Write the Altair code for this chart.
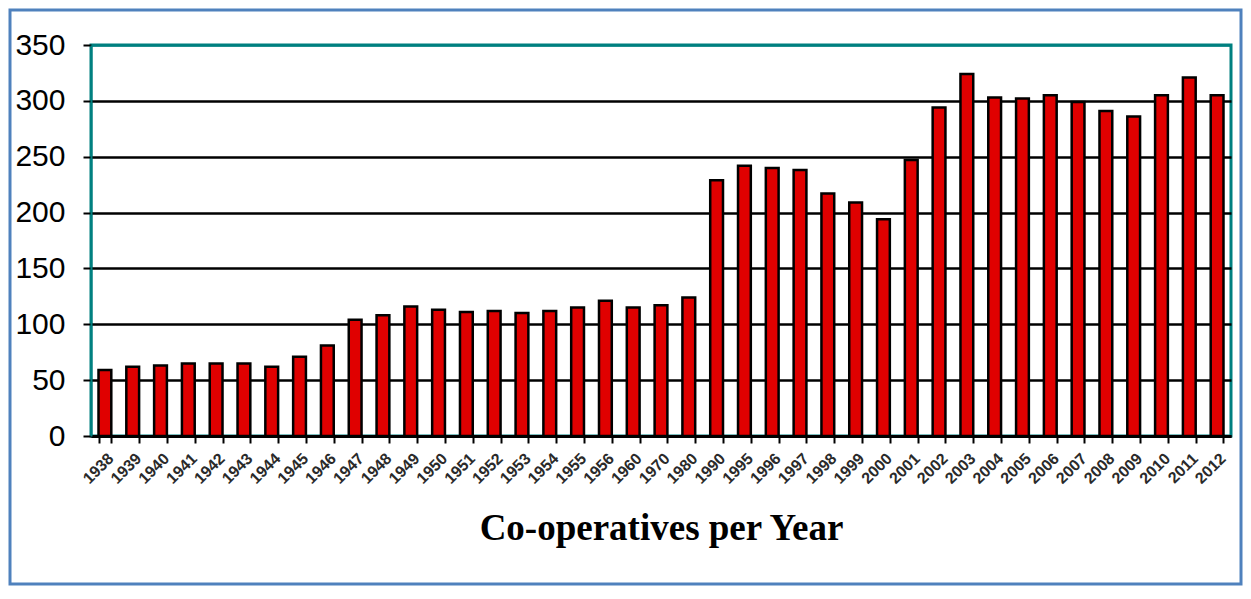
import altair as alt
import pandas as pd

years = ["1938", "1939", "1940", "1941", "1942", "1943", "1944", "1945", "1946", "1947",
         "1948", "1949", "1950", "1951", "1952", "1953", "1954", "1955", "1956", "1960",
         "1970", "1980", "1990", "1995", "1996", "1997", "1998", "1999", "2000", "2001",
         "2002", "2003", "2004", "2005", "2006", "2007", "2008", "2009", "2010", "2011", "2012"]
counts = [59, 62, 63, 65, 65, 65, 62, 71, 81, 104,
          108, 116, 113, 111, 112, 110, 112, 115, 121, 115,
          117, 124, 229, 242, 240, 238, 217, 209, 194, 247,
          294, 324, 303, 302, 305, 299, 291, 286, 305, 321, 305]
y_ticks = [0, 50, 100, 150, 200, 250, 300, 350]

df = pd.DataFrame({"year": years, "count": counts})

W, H = 1140, 391
PL, PT, PR, PB = 83, 37, 12, 150

bars = alt.Chart(df).mark_bar(
    color="#E00000", stroke="black", strokeWidth=2.5
).encode(
    x=alt.X("year:N", sort=None,
            scale=alt.Scale(paddingInner=0.54, paddingOuter=0.27),
            axis=alt.Axis(
                title="Co-operatives per Year",
                titleFont="Liberation Serif", titleFontSize=37, titleFontWeight="bold",
                titleColor="black", titleY=92, titleBaseline="middle",
                labelAngle=-45, labelAlign="right", labelBaseline="top",
                labelFont="Liberation Sans", labelFontSize=16, labelFontWeight="bold",
                labelColor="#2a2a2a",
                labelPadding=7,
                domainColor="black", domainWidth=3,
                tickColor="black", tickWidth=2, tickSize=7, tickBand="extent",
                grid=False)),
    y=alt.Y("count:Q",
            scale=alt.Scale(domain=[0, 350], nice=False),
            axis=alt.Axis(
                title=None, values=y_ticks,
                labelFont="Liberation Sans", labelFontSize=30, labelColor="black",
                labelPadding=18,
                domainColor="#008080", domainWidth=2,
                tickColor="black", tickWidth=2, tickSize=8,
                grid=True,
                gridColor={"condition": {"test": "datum.value === 350", "value": "#008080"},
                           "value": "black"},
                gridWidth=2.5, gridOpacity=1)),
)

frame = alt.Chart(pd.DataFrame({"a": [0]})).mark_rect(
    filled=False, stroke="#4F81BD", strokeWidth=3
).encode(
    x=alt.value(-PL + 2), x2=alt.value(W + PR - 2),
    y=alt.value(-PT + 2), y2=alt.value(H + PB - 2),
)

chart = alt.layer(bars, frame).properties(
    width=W, height=H,
    autosize=alt.AutoSizeParams(type="none"),
    padding={"left": PL, "top": PT, "right": PR, "bottom": PB},
    background="white",
).configure_view(
    stroke="#008080", strokeWidth=3
)

chart.save("out.html", embed_options={"renderer": "svg", "actions": False})
